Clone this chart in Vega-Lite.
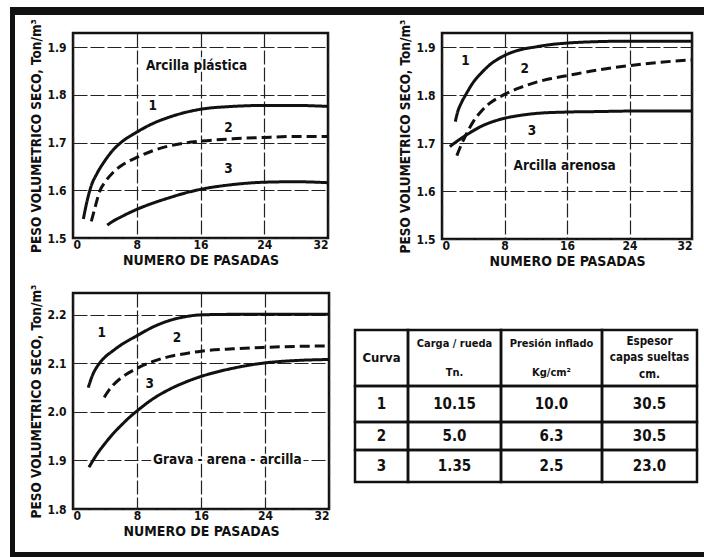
{
  "$schema": "https://vega.github.io/schema/vega-lite/v6.json",
  "background": "white",
  "padding": {"left": 10, "top": 7, "right": 0, "bottom": 0},
  "spacing": 0,
  "bounds": "full",
  "datasets": {
    "curvas": [
      {"panel": "plastica", "curva": "1", "pasadas": 1.3, "peso": 1.54},
      {"panel": "plastica", "curva": "1", "pasadas": 1.8, "peso": 1.58},
      {"panel": "plastica", "curva": "1", "pasadas": 2.3, "peso": 1.61},
      {"panel": "plastica", "curva": "1", "pasadas": 3, "peso": 1.635},
      {"panel": "plastica", "curva": "1", "pasadas": 4, "peso": 1.662},
      {"panel": "plastica", "curva": "1", "pasadas": 5, "peso": 1.684},
      {"panel": "plastica", "curva": "1", "pasadas": 6, "peso": 1.7},
      {"panel": "plastica", "curva": "1", "pasadas": 8, "peso": 1.722},
      {"panel": "plastica", "curva": "1", "pasadas": 10, "peso": 1.74},
      {"panel": "plastica", "curva": "1", "pasadas": 12, "peso": 1.753},
      {"panel": "plastica", "curva": "1", "pasadas": 14, "peso": 1.763},
      {"panel": "plastica", "curva": "1", "pasadas": 16, "peso": 1.77},
      {"panel": "plastica", "curva": "1", "pasadas": 20, "peso": 1.776},
      {"panel": "plastica", "curva": "1", "pasadas": 24, "peso": 1.778},
      {"panel": "plastica", "curva": "1", "pasadas": 28, "peso": 1.778},
      {"panel": "plastica", "curva": "1", "pasadas": 32, "peso": 1.776},
      {"panel": "plastica", "curva": "2", "pasadas": 2.3, "peso": 1.535},
      {"panel": "plastica", "curva": "2", "pasadas": 2.7, "peso": 1.56},
      {"panel": "plastica", "curva": "2", "pasadas": 3.4, "peso": 1.6},
      {"panel": "plastica", "curva": "2", "pasadas": 4, "peso": 1.617},
      {"panel": "plastica", "curva": "2", "pasadas": 5, "peso": 1.637},
      {"panel": "plastica", "curva": "2", "pasadas": 6, "peso": 1.651},
      {"panel": "plastica", "curva": "2", "pasadas": 7, "peso": 1.661},
      {"panel": "plastica", "curva": "2", "pasadas": 8, "peso": 1.669},
      {"panel": "plastica", "curva": "2", "pasadas": 10, "peso": 1.683},
      {"panel": "plastica", "curva": "2", "pasadas": 12, "peso": 1.693},
      {"panel": "plastica", "curva": "2", "pasadas": 14, "peso": 1.699},
      {"panel": "plastica", "curva": "2", "pasadas": 16, "peso": 1.703},
      {"panel": "plastica", "curva": "2", "pasadas": 20, "peso": 1.708},
      {"panel": "plastica", "curva": "2", "pasadas": 24, "peso": 1.711},
      {"panel": "plastica", "curva": "2", "pasadas": 28, "peso": 1.713},
      {"panel": "plastica", "curva": "2", "pasadas": 32, "peso": 1.713},
      {"panel": "plastica", "curva": "3", "pasadas": 4.3, "peso": 1.527},
      {"panel": "plastica", "curva": "3", "pasadas": 5, "peso": 1.535},
      {"panel": "plastica", "curva": "3", "pasadas": 6, "peso": 1.544},
      {"panel": "plastica", "curva": "3", "pasadas": 8, "peso": 1.56},
      {"panel": "plastica", "curva": "3", "pasadas": 10, "peso": 1.573},
      {"panel": "plastica", "curva": "3", "pasadas": 12, "peso": 1.584},
      {"panel": "plastica", "curva": "3", "pasadas": 14, "peso": 1.594},
      {"panel": "plastica", "curva": "3", "pasadas": 16, "peso": 1.602},
      {"panel": "plastica", "curva": "3", "pasadas": 20, "peso": 1.612},
      {"panel": "plastica", "curva": "3", "pasadas": 24, "peso": 1.617},
      {"panel": "plastica", "curva": "3", "pasadas": 28, "peso": 1.618},
      {"panel": "plastica", "curva": "3", "pasadas": 32, "peso": 1.616},
      {"panel": "arenosa", "curva": "1", "pasadas": 1.7, "peso": 1.745},
      {"panel": "arenosa", "curva": "1", "pasadas": 2, "peso": 1.765},
      {"panel": "arenosa", "curva": "1", "pasadas": 2.5, "peso": 1.785},
      {"panel": "arenosa", "curva": "1", "pasadas": 3, "peso": 1.8},
      {"panel": "arenosa", "curva": "1", "pasadas": 4, "peso": 1.827},
      {"panel": "arenosa", "curva": "1", "pasadas": 5, "peso": 1.846},
      {"panel": "arenosa", "curva": "1", "pasadas": 6, "peso": 1.862},
      {"panel": "arenosa", "curva": "1", "pasadas": 8, "peso": 1.883},
      {"panel": "arenosa", "curva": "1", "pasadas": 10, "peso": 1.895},
      {"panel": "arenosa", "curva": "1", "pasadas": 12, "peso": 1.901},
      {"panel": "arenosa", "curva": "1", "pasadas": 14, "peso": 1.906},
      {"panel": "arenosa", "curva": "1", "pasadas": 16, "peso": 1.909},
      {"panel": "arenosa", "curva": "1", "pasadas": 20, "peso": 1.912},
      {"panel": "arenosa", "curva": "1", "pasadas": 24, "peso": 1.913},
      {"panel": "arenosa", "curva": "1", "pasadas": 28, "peso": 1.913},
      {"panel": "arenosa", "curva": "1", "pasadas": 32, "peso": 1.913},
      {"panel": "arenosa", "curva": "2", "pasadas": 1.9, "peso": 1.674},
      {"panel": "arenosa", "curva": "2", "pasadas": 2.5, "peso": 1.698},
      {"panel": "arenosa", "curva": "2", "pasadas": 3, "peso": 1.715},
      {"panel": "arenosa", "curva": "2", "pasadas": 4, "peso": 1.745},
      {"panel": "arenosa", "curva": "2", "pasadas": 5, "peso": 1.766},
      {"panel": "arenosa", "curva": "2", "pasadas": 6, "peso": 1.782},
      {"panel": "arenosa", "curva": "2", "pasadas": 7, "peso": 1.793},
      {"panel": "arenosa", "curva": "2", "pasadas": 8, "peso": 1.802},
      {"panel": "arenosa", "curva": "2", "pasadas": 10, "peso": 1.816},
      {"panel": "arenosa", "curva": "2", "pasadas": 12, "peso": 1.827},
      {"panel": "arenosa", "curva": "2", "pasadas": 14, "peso": 1.835},
      {"panel": "arenosa", "curva": "2", "pasadas": 16, "peso": 1.841},
      {"panel": "arenosa", "curva": "2", "pasadas": 20, "peso": 1.853},
      {"panel": "arenosa", "curva": "2", "pasadas": 24, "peso": 1.862},
      {"panel": "arenosa", "curva": "2", "pasadas": 28, "peso": 1.869},
      {"panel": "arenosa", "curva": "2", "pasadas": 32, "peso": 1.874},
      {"panel": "arenosa", "curva": "3", "pasadas": 1, "peso": 1.693},
      {"panel": "arenosa", "curva": "3", "pasadas": 2, "peso": 1.705},
      {"panel": "arenosa", "curva": "3", "pasadas": 3, "peso": 1.716},
      {"panel": "arenosa", "curva": "3", "pasadas": 4, "peso": 1.726},
      {"panel": "arenosa", "curva": "3", "pasadas": 5, "peso": 1.735},
      {"panel": "arenosa", "curva": "3", "pasadas": 6, "peso": 1.742},
      {"panel": "arenosa", "curva": "3", "pasadas": 8, "peso": 1.752},
      {"panel": "arenosa", "curva": "3", "pasadas": 10, "peso": 1.758},
      {"panel": "arenosa", "curva": "3", "pasadas": 12, "peso": 1.762},
      {"panel": "arenosa", "curva": "3", "pasadas": 16, "peso": 1.765},
      {"panel": "arenosa", "curva": "3", "pasadas": 20, "peso": 1.766},
      {"panel": "arenosa", "curva": "3", "pasadas": 24, "peso": 1.767},
      {"panel": "arenosa", "curva": "3", "pasadas": 32, "peso": 1.767},
      {"panel": "grava", "curva": "1", "pasadas": 1.9, "peso": 2.05},
      {"panel": "grava", "curva": "1", "pasadas": 2.5, "peso": 2.078},
      {"panel": "grava", "curva": "1", "pasadas": 3.3, "peso": 2.1},
      {"panel": "grava", "curva": "1", "pasadas": 4, "peso": 2.113},
      {"panel": "grava", "curva": "1", "pasadas": 5, "peso": 2.126},
      {"panel": "grava", "curva": "1", "pasadas": 6, "peso": 2.138},
      {"panel": "grava", "curva": "1", "pasadas": 8, "peso": 2.157},
      {"panel": "grava", "curva": "1", "pasadas": 10, "peso": 2.175},
      {"panel": "grava", "curva": "1", "pasadas": 12, "peso": 2.188},
      {"panel": "grava", "curva": "1", "pasadas": 14, "peso": 2.196},
      {"panel": "grava", "curva": "1", "pasadas": 16, "peso": 2.2},
      {"panel": "grava", "curva": "1", "pasadas": 20, "peso": 2.201},
      {"panel": "grava", "curva": "1", "pasadas": 24, "peso": 2.201},
      {"panel": "grava", "curva": "1", "pasadas": 32, "peso": 2.201},
      {"panel": "grava", "curva": "2", "pasadas": 3.9, "peso": 2.03},
      {"panel": "grava", "curva": "2", "pasadas": 4.5, "peso": 2.045},
      {"panel": "grava", "curva": "2", "pasadas": 5, "peso": 2.055},
      {"panel": "grava", "curva": "2", "pasadas": 6, "peso": 2.07},
      {"panel": "grava", "curva": "2", "pasadas": 7, "peso": 2.081},
      {"panel": "grava", "curva": "2", "pasadas": 8, "peso": 2.09},
      {"panel": "grava", "curva": "2", "pasadas": 10, "peso": 2.104},
      {"panel": "grava", "curva": "2", "pasadas": 12, "peso": 2.114},
      {"panel": "grava", "curva": "2", "pasadas": 14, "peso": 2.12},
      {"panel": "grava", "curva": "2", "pasadas": 16, "peso": 2.125},
      {"panel": "grava", "curva": "2", "pasadas": 20, "peso": 2.13},
      {"panel": "grava", "curva": "2", "pasadas": 24, "peso": 2.133},
      {"panel": "grava", "curva": "2", "pasadas": 28, "peso": 2.135},
      {"panel": "grava", "curva": "2", "pasadas": 32, "peso": 2.136},
      {"panel": "grava", "curva": "3", "pasadas": 2, "peso": 1.886},
      {"panel": "grava", "curva": "3", "pasadas": 3, "peso": 1.913},
      {"panel": "grava", "curva": "3", "pasadas": 4, "peso": 1.935},
      {"panel": "grava", "curva": "3", "pasadas": 5, "peso": 1.955},
      {"panel": "grava", "curva": "3", "pasadas": 6, "peso": 1.972},
      {"panel": "grava", "curva": "3", "pasadas": 7, "peso": 1.988},
      {"panel": "grava", "curva": "3", "pasadas": 8, "peso": 2.002},
      {"panel": "grava", "curva": "3", "pasadas": 10, "peso": 2.027},
      {"panel": "grava", "curva": "3", "pasadas": 12, "peso": 2.046},
      {"panel": "grava", "curva": "3", "pasadas": 14, "peso": 2.061},
      {"panel": "grava", "curva": "3", "pasadas": 16, "peso": 2.073},
      {"panel": "grava", "curva": "3", "pasadas": 20, "peso": 2.09},
      {"panel": "grava", "curva": "3", "pasadas": 24, "peso": 2.101},
      {"panel": "grava", "curva": "3", "pasadas": 28, "peso": 2.106},
      {"panel": "grava", "curva": "3", "pasadas": 32, "peso": 2.108}
    ],
    "rotulos": [
      {"panel": "plastica", "pasadas": 15.5, "peso": 1.86, "texto": "Arcilla plástica"},
      {"panel": "plastica", "pasadas": 10, "peso": 1.776, "texto": "1"},
      {"panel": "plastica", "pasadas": 19.5, "peso": 1.731, "texto": "2"},
      {"panel": "plastica", "pasadas": 19.5, "peso": 1.645, "texto": "3"},
      {"panel": "arenosa", "pasadas": 3.0, "peso": 1.872, "texto": "1"},
      {"panel": "arenosa", "pasadas": 10.6, "peso": 1.855, "texto": "2"},
      {"panel": "arenosa", "pasadas": 11.5, "peso": 1.726, "texto": "3"},
      {"panel": "arenosa", "pasadas": 15.7, "peso": 1.653, "texto": "Arcilla arenosa"},
      {"panel": "grava", "pasadas": 3.6, "peso": 2.162, "texto": "1"},
      {"panel": "grava", "pasadas": 13, "peso": 2.152, "texto": "2"},
      {"panel": "grava", "pasadas": 9.6, "peso": 2.058, "texto": "3"},
      {"panel": "grava", "pasadas": 19.3, "peso": 1.9, "texto": "Grava - arena - arcilla"}
    ],
    "encabezados": [
      {"col": "curva", "texto": "Curva"},
      {"col": "carga", "texto": "Carga / rueda\nTn."},
      {"col": "presion", "texto": "Presión inflado\nKg/cm²"},
      {"col": "espesor", "texto": "Espesor\ncapas sueltas\ncm."}
    ],
    "tabla": [
      {"curva": "1", "carga": "10.15", "presion": "10.0", "espesor": "30.5"},
      {"curva": "2", "carga": "5.0", "presion": "6.3", "espesor": "30.5"},
      {"curva": "3", "carga": "1.35", "presion": "2.5", "espesor": "23.0"}
    ]
  },
  "config": {
    "font": "DejaVu Sans Condensed, Liberation Sans Narrow, DejaVu Sans, sans-serif",
    "view": {"stroke": null},
    "axis": {
      "labelFont": "DejaVu Sans Condensed, Liberation Sans Narrow, DejaVu Sans, sans-serif",
      "labelFontWeight": "bold",
      "labelFontSize": 12,
      "labelColor": "#111",
      "titleFont": "DejaVu Sans Condensed, Liberation Sans Narrow, DejaVu Sans, sans-serif",
      "titleFontWeight": "bold",
      "titleColor": "#111",
      "domain": false,
      "ticks": false,
      "tickSize": 0,
      "grid": true,
      "gridColor": "#222",
      "gridWidth": 1.2,
      "gridDash": [14, 3],
      "gridOpacity": 1
    },
    "axisX": {"labelPadding": 1, "titlePadding": 3, "titleFontSize": 14, "labelFlush": true},
    "axisY": {"labelPadding": 7, "minExtent": 28, "maxExtent": 28, "titlePadding": 2, "titleFontSize": 13.5},
    "text": {"font": "DejaVu Sans Condensed, Liberation Sans Narrow, DejaVu Sans, sans-serif", "fontWeight": "bold", "color": "#111"}
  },
  "vconcat": [
    {
      "data": {"values": []},
      "mark": {"type": "point", "opacity": 0},
      "width": 694,
      "height": 8,
      "view": {"fill": "#111", "stroke": null}
    },
    {
      "spacing": 12,
      "bounds": "full",
      "hconcat": [
        {
          "data": {"values": []},
          "mark": {"type": "point", "opacity": 0},
          "width": 5,
          "height": 537,
          "view": {"fill": "#111", "stroke": null}
        },
        {
          "spacing": 0,
          "bounds": "full",
          "vconcat": [
            {"data": {"values": []}, "mark": {"type": "point", "opacity": 0}, "width": 1, "height": 2},
            {
              "spacing": 114,
              "bounds": "flush",
              "hconcat": [
                {
                  "width": 255,
                  "height": 205,
                  "view": {"stroke": "#111", "strokeWidth": 2.5},
                  "encoding": {
                    "x": {"field": "pasadas", "type": "quantitative", "scale": {"domain": [0, 32], "nice": false}, "axis": {"values": [0, 8, 16, 24, 32], "title": "NUMERO DE PASADAS"}},
                    "y": {"field": "peso", "type": "quantitative", "scale": {"domain": [1.5, 1.93], "nice": false, "zero": false}, "axis": {"values": [1.5, 1.6, 1.7, 1.8, 1.9], "format": ".1f", "title": "PESO VOLUMETRICO SECO, Ton/m³"}}
                  },
                  "layer": [
                    {
                      "data": {"name": "curvas"},
                      "transform": [{"filter": "datum.panel == 'plastica'"}],
                      "mark": {"type": "line", "interpolate": "monotone", "strokeWidth": 3, "color": "#111"},
                      "encoding": {
                        "detail": {"field": "curva", "type": "nominal"},
                        "strokeDash": {"field": "curva", "type": "nominal", "scale": {"domain": ["1", "2", "3"], "range": [[1, 0], [10, 5], [1, 0]]}, "legend": null}
                      }
                    },
                    {
                      "data": {"name": "rotulos"},
                      "transform": [{"filter": "datum.panel == 'plastica'"}],
                      "mark": {"type": "text", "fontSize": 13.5, "stroke": "white", "strokeWidth": 4},
                      "encoding": {"text": {"field": "texto", "type": "nominal"}}
                    },
                    {
                      "data": {"name": "rotulos"},
                      "transform": [{"filter": "datum.panel == 'plastica'"}],
                      "mark": {"type": "text", "fontSize": 13.5},
                      "encoding": {"text": {"field": "texto", "type": "nominal"}}
                    }
                  ]
                },
                {
                  "width": 250,
                  "height": 206,
                  "view": {"stroke": "#111", "strokeWidth": 2.5},
                  "encoding": {
                    "x": {"field": "pasadas", "type": "quantitative", "scale": {"domain": [0, 32], "nice": false}, "axis": {"values": [0, 8, 16, 24, 32], "title": "NUMERO DE PASADAS"}},
                    "y": {"field": "peso", "type": "quantitative", "scale": {"domain": [1.5, 1.93], "nice": false, "zero": false}, "axis": {"values": [1.5, 1.6, 1.7, 1.8, 1.9], "format": ".1f", "title": "PESO VOLUMETRICO SECO, Ton/m³"}}
                  },
                  "layer": [
                    {
                      "data": {"name": "curvas"},
                      "transform": [{"filter": "datum.panel == 'arenosa'"}],
                      "mark": {"type": "line", "interpolate": "monotone", "strokeWidth": 3, "color": "#111"},
                      "encoding": {
                        "detail": {"field": "curva", "type": "nominal"},
                        "strokeDash": {"field": "curva", "type": "nominal", "scale": {"domain": ["1", "2", "3"], "range": [[1, 0], [10, 5], [1, 0]]}, "legend": null}
                      }
                    },
                    {
                      "data": {"name": "rotulos"},
                      "transform": [{"filter": "datum.panel == 'arenosa'"}],
                      "mark": {"type": "text", "fontSize": 13.5, "stroke": "white", "strokeWidth": 4},
                      "encoding": {"text": {"field": "texto", "type": "nominal"}}
                    },
                    {
                      "data": {"name": "rotulos"},
                      "transform": [{"filter": "datum.panel == 'arenosa'"}],
                      "mark": {"type": "text", "fontSize": 13.5},
                      "encoding": {"text": {"field": "texto", "type": "nominal"}}
                    }
                  ]
                }
              ]
            },
            {"data": {"values": []}, "mark": {"type": "point", "opacity": 0}, "width": 1, "height": 12},
            {
              "spacing": 16,
              "bounds": "full",
              "hconcat": [
                {
                  "width": 256,
                  "height": 216,
                  "view": {"stroke": "#111", "strokeWidth": 2.5},
                  "encoding": {
                    "x": {"field": "pasadas", "type": "quantitative", "scale": {"domain": [0, 32], "nice": false}, "axis": {"values": [0, 8, 16, 24, 32], "title": "NUMERO DE PASADAS"}},
                    "y": {"field": "peso", "type": "quantitative", "scale": {"domain": [1.8, 2.245], "nice": false, "zero": false}, "axis": {"values": [1.8, 1.9, 2.0, 2.1, 2.2], "format": ".1f", "title": "PESO VOLUMETRICO SECO, Ton/m³"}}
                  },
                  "layer": [
                    {
                      "data": {"name": "curvas"},
                      "transform": [{"filter": "datum.panel == 'grava'"}],
                      "mark": {"type": "line", "interpolate": "monotone", "strokeWidth": 3, "color": "#111"},
                      "encoding": {
                        "detail": {"field": "curva", "type": "nominal"},
                        "strokeDash": {"field": "curva", "type": "nominal", "scale": {"domain": ["1", "2", "3"], "range": [[1, 0], [7, 4], [1, 0]]}, "legend": null}
                      }
                    },
                    {
                      "data": {"name": "rotulos"},
                      "transform": [{"filter": "datum.panel == 'grava'"}],
                      "mark": {"type": "text", "fontSize": 13.5, "stroke": "white", "strokeWidth": 5},
                      "encoding": {"text": {"field": "texto", "type": "nominal"}}
                    },
                    {
                      "data": {"name": "rotulos"},
                      "transform": [{"filter": "datum.panel == 'grava'"}],
                      "mark": {"type": "text", "fontSize": 13.5},
                      "encoding": {"text": {"field": "texto", "type": "nominal"}}
                    }
                  ]
                },
                {
                  "spacing": 0,
                  "bounds": "full",
                  "vconcat": [
                    {"data": {"values": []}, "mark": {"type": "point", "opacity": 0}, "width": 1, "height": 35},
                    {
                      "columns": 4,
                      "spacing": 0,
                      "bounds": "flush",
                      "align": "each",
                      "concat": [
                        {"data": {"name": "encabezados"}, "transform": [{"filter": "datum.col == 'curva'"}], "width": 53, "height": 56, "view": {"stroke": "#111", "strokeWidth": 2.5}, "mark": {"type": "text", "fontSize": 13}, "encoding": {"text": {"field": "texto", "type": "nominal"}}},
                        {"data": {"name": "encabezados"}, "transform": [{"filter": "datum.col == 'carga'"}], "width": 93, "height": 56, "view": {"stroke": "#111", "strokeWidth": 2.5}, "mark": {"type": "text", "fontSize": 11, "lineBreak": "\n", "lineHeight": 29, "dy": -14.5}, "encoding": {"text": {"field": "texto", "type": "nominal"}}},
                        {"data": {"name": "encabezados"}, "transform": [{"filter": "datum.col == 'presion'"}], "width": 101, "height": 56, "view": {"stroke": "#111", "strokeWidth": 2.5}, "mark": {"type": "text", "fontSize": 11, "lineBreak": "\n", "lineHeight": 29, "dy": -14.5}, "encoding": {"text": {"field": "texto", "type": "nominal"}}},
                        {"data": {"name": "encabezados"}, "transform": [{"filter": "datum.col == 'espesor'"}], "width": 95, "height": 56, "view": {"stroke": "#111", "strokeWidth": 2.5}, "mark": {"type": "text", "fontSize": 11.5, "lineBreak": "\n", "lineHeight": 16.5, "dy": -16.5}, "encoding": {"text": {"field": "texto", "type": "nominal"}}},
                        {"data": {"name": "tabla"}, "transform": [{"filter": "datum.curva == '1'"}], "width": 53, "height": 36, "view": {"stroke": "#111", "strokeWidth": 2.5}, "mark": {"type": "text", "fontSize": 15}, "encoding": {"text": {"field": "curva", "type": "nominal"}}},
                        {"data": {"name": "tabla"}, "transform": [{"filter": "datum.curva == '1'"}], "width": 93, "height": 36, "view": {"stroke": "#111", "strokeWidth": 2.5}, "mark": {"type": "text", "fontSize": 15}, "encoding": {"text": {"field": "carga", "type": "nominal"}}},
                        {"data": {"name": "tabla"}, "transform": [{"filter": "datum.curva == '1'"}], "width": 101, "height": 36, "view": {"stroke": "#111", "strokeWidth": 2.5}, "mark": {"type": "text", "fontSize": 15}, "encoding": {"text": {"field": "presion", "type": "nominal"}}},
                        {"data": {"name": "tabla"}, "transform": [{"filter": "datum.curva == '1'"}], "width": 95, "height": 36, "view": {"stroke": "#111", "strokeWidth": 2.5}, "mark": {"type": "text", "fontSize": 15}, "encoding": {"text": {"field": "espesor", "type": "nominal"}}},
                        {"data": {"name": "tabla"}, "transform": [{"filter": "datum.curva == '2'"}], "width": 53, "height": 28, "view": {"stroke": "#111", "strokeWidth": 2.5}, "mark": {"type": "text", "fontSize": 15}, "encoding": {"text": {"field": "curva", "type": "nominal"}}},
                        {"data": {"name": "tabla"}, "transform": [{"filter": "datum.curva == '2'"}], "width": 93, "height": 28, "view": {"stroke": "#111", "strokeWidth": 2.5}, "mark": {"type": "text", "fontSize": 15}, "encoding": {"text": {"field": "carga", "type": "nominal"}}},
                        {"data": {"name": "tabla"}, "transform": [{"filter": "datum.curva == '2'"}], "width": 101, "height": 28, "view": {"stroke": "#111", "strokeWidth": 2.5}, "mark": {"type": "text", "fontSize": 15}, "encoding": {"text": {"field": "presion", "type": "nominal"}}},
                        {"data": {"name": "tabla"}, "transform": [{"filter": "datum.curva == '2'"}], "width": 95, "height": 28, "view": {"stroke": "#111", "strokeWidth": 2.5}, "mark": {"type": "text", "fontSize": 15}, "encoding": {"text": {"field": "espesor", "type": "nominal"}}},
                        {"data": {"name": "tabla"}, "transform": [{"filter": "datum.curva == '3'"}], "width": 53, "height": 32, "view": {"stroke": "#111", "strokeWidth": 2.5}, "mark": {"type": "text", "fontSize": 15}, "encoding": {"text": {"field": "curva", "type": "nominal"}}},
                        {"data": {"name": "tabla"}, "transform": [{"filter": "datum.curva == '3'"}], "width": 93, "height": 32, "view": {"stroke": "#111", "strokeWidth": 2.5}, "mark": {"type": "text", "fontSize": 15}, "encoding": {"text": {"field": "carga", "type": "nominal"}}},
                        {"data": {"name": "tabla"}, "transform": [{"filter": "datum.curva == '3'"}], "width": 101, "height": 32, "view": {"stroke": "#111", "strokeWidth": 2.5}, "mark": {"type": "text", "fontSize": 15}, "encoding": {"text": {"field": "presion", "type": "nominal"}}},
                        {"data": {"name": "tabla"}, "transform": [{"filter": "datum.curva == '3'"}], "width": 95, "height": 32, "view": {"stroke": "#111", "strokeWidth": 2.5}, "mark": {"type": "text", "fontSize": 15}, "encoding": {"text": {"field": "espesor", "type": "nominal"}}}
                      ]
                    }
                  ]
                }
              ]
            }
          ]
        }
      ]
    },
    {
      "data": {"values": []},
      "mark": {"type": "point", "opacity": 0},
      "width": 694,
      "height": 8,
      "view": {"fill": "#111", "stroke": null}
    }
  ]
}
